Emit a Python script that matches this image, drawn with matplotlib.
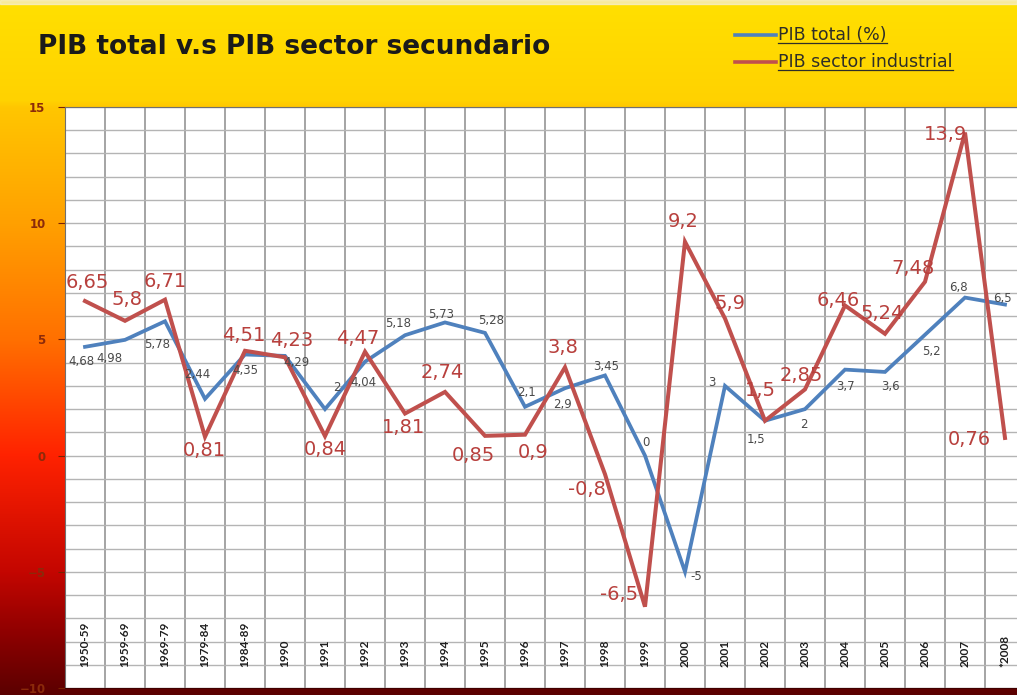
import numpy as np
import matplotlib
matplotlib.use('Agg')
import matplotlib.pyplot as plt
from matplotlib.colors import to_rgb
from matplotlib.lines import Line2D

# 数据
categorias = ['1950-59', '1959-69', '1969-79', '1979-84', '1984-89', '1990', '1991',
              '1992', '1993', '1994', '1995', '1996', '1997', '1998', '1999', '2000',
              '2001', '2002', '2003', '2004', '2005', '2006', '2007', '*2008']
pib_total = [4.68, 4.98, 5.78, 2.44, 4.35, 4.29, 2, 4.04, 5.18, 5.73, 5.28, 2.1,
             2.9, 3.45, 0, -5, 3, 1.5, 2, 3.7, 3.6, 5.2, 6.8, 6.5]
pib_industrial = [6.65, 5.8, 6.71, 0.81, 4.51, 4.23, 0.84, 4.47, 1.81, 2.74, 0.85, 0.9,
                  3.8, -0.8, -6.5, 9.2, 5.9, 1.5, 2.85, 6.46, 5.24, 7.48, 13.9, 0.76]

# 标签偏移 (像素)
off_total = [(-4, -15), (-16, -19), (-8, -23), (-8, 24), (0, -16), (12, -7), (12, 22),
             (-2, -21), (-7, 12), (-4, 8), (6, 12), (1, 14), (-3, -16), (1, 9), (1, 13),
             (11, -5), (-13, 3), (-9, -19), (-1, -15), (0, -17), (5, -15), (6, -17),
             (-7, 10), (-3, 6)]
off_ind = [(2, 19), (2, 21), (0, 18), (-1, -14), (-1, 15), (7, 17), (0, -13), (-7, 13),
           (-2, -14), (-3, 19), (-12, -20), (8, -18), (-2, 20), (-18, -15), (-26, 12),
           (-2, 20), (5, 15), (-5, 30), (-4, 14), (-7, 5), (-3, 20), (-12, 13),
           (-19, -2), (-36, -2)]

W, H = 1017, 695
fig = plt.figure(figsize=(W / 100, H / 100), dpi=100)

# 背景渐变
stops_y = [0, 100, 107, 223, 339, 455, 571, 640, 695]
stops_c = ['#FFE000', '#FFD200', '#FFC600', '#FFA000', '#FF7000', '#FF2200',
           '#C40600', '#880000', '#5a0000']
yy = np.arange(H)
rgb = np.array([to_rgb(c) for c in stops_c])
grad = np.stack([np.interp(yy, stops_y, rgb[:, k]) for k in range(3)], axis=1)
bg = fig.add_axes([0, 0, 1, 1], zorder=-5)
bg.imshow(grad[:, None, :], aspect='auto', extent=[0, 1, 0, 1])
bg.axis('off')
fig.add_artist(plt.Rectangle((0, 1 - 4 / H), 1, 4 / H, transform=fig.transFigure,
                             color='#f4f0dc', alpha=0.7, zorder=-4))

# 主图
left, top, bottom = 65, 107, 688
ax = fig.add_axes([left / W, (H - bottom) / H, 40 * 24 / W, (bottom - top) / H])
ax.set_facecolor('white')
x = np.arange(len(categorias))
ax.plot(x, pib_total, color='#4f81bd', lw=2.7, zorder=3, solid_joinstyle='miter')
ax.plot(x, pib_industrial, color='#c0504d', lw=2.9, zorder=3, solid_joinstyle='miter')
ax.set_xlim(-0.5, 23.5)
ax.set_ylim(-10, 15)
ax.set_yticks(np.arange(-10, 16, 5))
ax.set_yticks(np.arange(-10, 16, 1), minor=True)
ax.set_xticks(np.arange(-0.5, 24, 1))
ax.set_xticklabels([])
ax.tick_params(axis='x', length=0)
ax.tick_params(axis='y', which='major', length=5, color='#7a2000', pad=9,
               labelsize=8.5, labelcolor='#8b2a0a')
ax.tick_params(axis='y', which='minor', length=0)
for lab in ax.get_yticklabels():
    lab.set_fontweight('bold')
ax.grid(True, axis='x', which='major', color='#8c8c8c', lw=1.1)
ax.grid(True, axis='y', which='minor', color='#b4b4b4', lw=1.0)
ax.grid(True, axis='y', which='major', color='#b4b4b4', lw=1.0)
ax.set_axisbelow(True)
for s in ax.spines.values():
    s.set_color('#707070')
ax.spines['bottom'].set_color('#400000')

# x轴标签
for i, c in enumerate(categorias):
    ax.text(i, -9.1, c, rotation=90, ha='center', va='bottom', fontsize=8.5,
            family='Lato', fontweight='bold', color='#1e1e1e', zorder=4)

# 数据标签
fmt = lambda v: ('%g' % v).replace('.', ',')
for i, v in enumerate(pib_total):
    ax.annotate(fmt(v), (i, v), xytext=off_total[i], textcoords='offset pixels',
                ha='center', va='center', fontsize=8.5, color='#4a4a4a', zorder=5)
for i, v in enumerate(pib_industrial):
    ax.annotate(fmt(v), (i, v), xytext=off_ind[i], textcoords='offset pixels',
                ha='center', va='center', fontsize=14, color='#b8403d', zorder=5)

# 标题
fig.text(38 / W, 1 - 54 / H, 'PIB total v.s PIB sector secundario', fontsize=19,
         fontweight='bold', family='DejaVu Sans', color='#1a1a1a', va='baseline')

# 图例
leg = [('PIB total (%)', '#4f81bd', 40), ('PIB sector industrial', '#c0504d', 67)]
texts = []
for lab, col, ybase in leg:
    fig.add_artist(Line2D([735 / W, 776 / W], [1 - (ybase - 5) / H] * 2,
                          transform=fig.transFigure, color=col, lw=2.6))
    t = fig.text(778 / W, 1 - ybase / H, lab, fontsize=12.5, family='DejaVu Sans',
                 color='#2e2e28', va='baseline')
    texts.append((t, ybase))
fig.canvas.draw()
for t, ybase in texts:
    bb = t.get_window_extent()
    fig.add_artist(Line2D([bb.x0 / W, bb.x1 / W], [1 - (ybase + 3) / H] * 2,
                          transform=fig.transFigure, color='#2e2e28', lw=0.9))

fig.savefig('out.png', dpi=100)
